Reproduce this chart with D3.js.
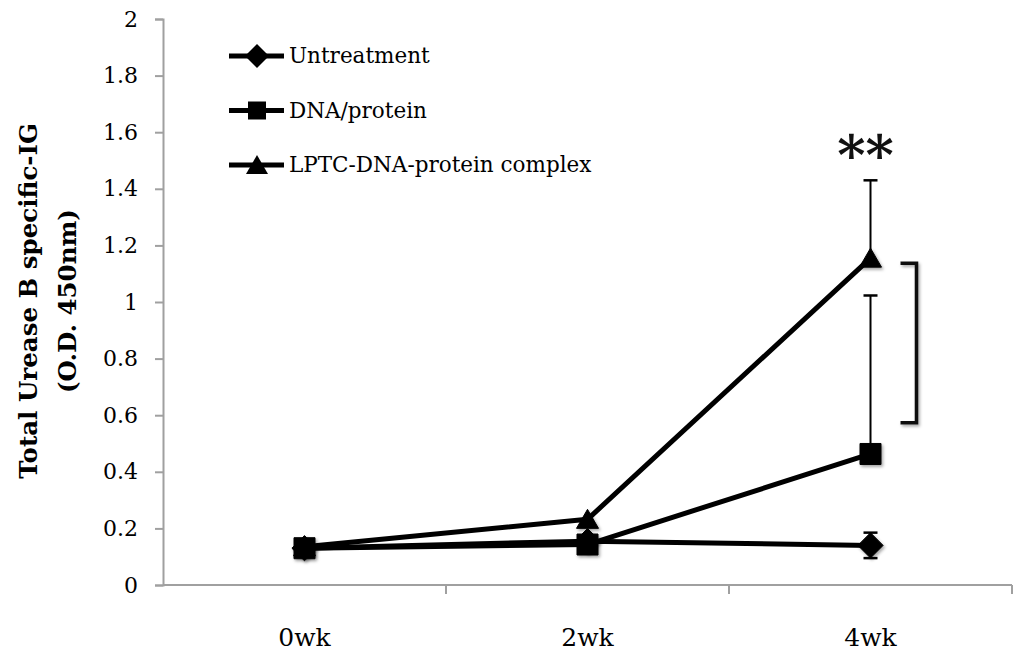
<!DOCTYPE html>
<html>
<head>
<meta charset="utf-8">
<script src="https://cdn.jsdelivr.net/npm/d3@7"></script>
<style>
  html, body { margin: 0; padding: 0; background: #fff; }
  svg { display: block; }
</style>
</head>
<body>
<svg id="chart" width="1014" height="652"></svg>
<script>
// Time points and tick values
const weeks = ["0wk", "2wk", "4wk"];
const yTicks = [0, 0.2, 0.4, 0.6, 0.8, 1, 1.2, 1.4, 1.6, 1.8, 2];

// Series (O.D. 450nm)
const seriesNames = ["Untreatment", "DNA/protein", "LPTC-DNA-protein complex"];
const untreatment = [0.13, 0.155, 0.14];
const dnaProtein = [0.13, 0.143, 0.463];
const lptcComplex = [0.135, 0.232, 1.155];

// Error bars (upper / lower)
const untreatmentErrUp = [0.03, 0.0, 0.045];
const untreatmentErrDown = [0.0, 0.0, 0.045];
const dnaProteinErrUp = [0.0, 0.0, 0.56];
const lptcComplexErrUp = [0.0, 0.0, 0.275];

const markerShapes = ["diamond", "square", "triangle"];

const series = [
  { name: seriesNames[0], values: untreatment, up: untreatmentErrUp, down: untreatmentErrDown, shape: markerShapes[0] },
  { name: seriesNames[1], values: dnaProtein, up: dnaProteinErrUp, down: [0, 0, 0], shape: markerShapes[1] },
  { name: seriesNames[2], values: lptcComplex, up: lptcComplexErrUp, down: [0, 0, 0], shape: markerShapes[2] }
];

const svg = d3.select("#chart");
const margin = { left: 163, right: 1012, top: 19, bottom: 585 };

const x = d3.scaleBand().domain(weeks).range([margin.left, margin.right]).padding(0);
const y = d3.scaleLinear().domain([0, 2]).range([margin.bottom, margin.top]);
const cx = d => x(d) + x.bandwidth() / 2;

const font = "'DejaVu Serif', serif";

// drop shadow used by the markers
const defs = svg.append("defs");
const shadow = defs.append("filter").attr("id", "shadow").attr("x", "-50%").attr("y", "-50%").attr("width", "200%").attr("height", "200%");
shadow.append("feDropShadow").attr("dx", 1.5).attr("dy", 2).attr("stdDeviation", 1.8).attr("flood-color", "#000").attr("flood-opacity", 0.35);

// Y axis
const yAxis = svg.append("g")
  .attr("transform", `translate(${margin.left},0)`)
  .call(d3.axisLeft(y).tickValues(yTicks).tickSize(8).tickPadding(17).tickFormat(d3.format("~g")));
yAxis.select(".domain").attr("stroke", "#a0a0a0").attr("stroke-width", 2);
yAxis.selectAll(".tick line").attr("stroke", "#a0a0a0").attr("stroke-width", 2);
yAxis.selectAll(".tick text").attr("font-family", font).attr("font-size", 22).attr("fill", "#000");

// X axis with ticks at band boundaries
const xAxisG = svg.append("g").attr("transform", `translate(0,${margin.bottom})`);
xAxisG.append("line").attr("x1", margin.left).attr("x2", margin.right).attr("stroke", "#a0a0a0").attr("stroke-width", 2);
const boundaries = weeks.map(w => x(w)).concat([x(weeks[weeks.length - 1]) + x.bandwidth()]);
xAxisG.selectAll(".xtick").data(boundaries.slice(1)).join("line")
  .attr("x1", d => d).attr("x2", d => d).attr("y1", 0).attr("y2", 9)
  .attr("stroke", "#a0a0a0").attr("stroke-width", 2);
xAxisG.selectAll(".xlabel").data(weeks).join("text")
  .attr("x", d => cx(d)).attr("y", 61)
  .attr("text-anchor", "middle")
  .attr("font-family", font).attr("font-size", 25)
  .text(d => d);

// Y axis title
const yTitle = svg.append("text")
  .attr("transform", "translate(0,301) rotate(-90)")
  .attr("text-anchor", "middle")
  .attr("font-family", font).attr("font-weight", "bold").attr("font-size", 24.5);
yTitle.append("tspan").attr("x", 0).attr("y", 37).text("Total Urease B specific-IG");
yTitle.append("tspan").attr("x", 0).attr("y", 76).text("(O.D. 450nm)");

// marker symbol generators
function markerPath(shape, s) {
  if (shape === "diamond") return `M0,${-s * 0.6}L${s * 0.6},0L0,${s * 0.6}L${-s * 0.6},0Z`;
  if (shape === "square") return `M${-s / 2},${-s / 2}h${s}v${s}h${-s}Z`;
  return `M0,${-s * 0.5}L${s * 0.55},${s * 0.45}L${-s * 0.55},${s * 0.45}Z`;
}

// error bars
const errG = svg.append("g");
series.forEach(s => {
  weeks.forEach((w, i) => {
    const v = s.values[i];
    const hi = v + s.up[i], lo = v - s.down[i];
    if (s.up[i] > 0) {
      errG.append("line").attr("x1", cx(w)).attr("x2", cx(w)).attr("y1", y(v)).attr("y2", y(hi)).attr("stroke", "#000").attr("stroke-width", 2);
      errG.append("line").attr("x1", cx(w) - 7).attr("x2", cx(w) + 7).attr("y1", y(hi)).attr("y2", y(hi)).attr("stroke", "#000").attr("stroke-width", 2.5);
    }
    if (s.down[i] > 0) {
      errG.append("line").attr("x1", cx(w)).attr("x2", cx(w)).attr("y1", y(v)).attr("y2", y(lo)).attr("stroke", "#000").attr("stroke-width", 2);
      errG.append("line").attr("x1", cx(w) - 7).attr("x2", cx(w) + 7).attr("y1", y(lo)).attr("y2", y(lo)).attr("stroke", "#000").attr("stroke-width", 2.5);
    }
  });
});

// lines and markers
const line = d3.line().x((d, i) => cx(weeks[i])).y(d => y(d));
const plotG = svg.append("g");
series.forEach(s => {
  plotG.append("path").datum(s.values).attr("d", line)
    .attr("fill", "none").attr("stroke", "#000").attr("stroke-width", 5).attr("stroke-linejoin", "round");
});
series.forEach(s => {
  plotG.selectAll(null).data(s.values).join("path")
    .attr("transform", (d, i) => `translate(${cx(weeks[i])},${y(d)})`)
    .attr("d", markerPath(s.shape, s.shape === "triangle" ? 20 : 21))
    .attr("fill", "#000")
    .attr("stroke", "#000").attr("stroke-width", 1).attr("stroke-linejoin", "round")
    .attr("filter", "url(#shadow)");
});

// significance bracket between LPTC and DNA/protein at 4wk
const bx = cx(weeks[2]) + 46;
const bTop = y(lptcComplex[2]) + 5, bBot = y(dnaProtein[2] + 0.11);
svg.append("path")
  .attr("d", `M${bx - 16},${bTop}H${bx}V${bBot}H${bx - 16}`)
  .attr("fill", "none").attr("stroke", "#111").attr("stroke-width", 3.5)
  .attr("filter", "url(#shadow)");
svg.append("text")
  .attr("x", cx(weeks[2]) - 5).attr("y", 174)
  .attr("text-anchor", "middle")
  .attr("font-family", font).attr("font-weight", "bold").attr("font-size", 54)
  .attr("fill", "#111")
  .text("**");

// legend
const legend = svg.append("g");
series.forEach((s, i) => {
  const ly = 56 + i * 54.5;
  legend.append("line").attr("x1", 229).attr("x2", 284).attr("y1", ly).attr("y2", ly).attr("stroke", "#000").attr("stroke-width", 5);
  legend.append("path").attr("transform", `translate(257,${ly})`).attr("d", markerPath(s.shape, s.shape === "square" ? 18 : 20)).attr("fill", "#000");
  legend.append("text").attr("x", 289).attr("y", ly + 7)
    .attr("font-family", font).attr("font-size", 21.5)
    .text(s.name);
});
</script>
</body>
</html>
